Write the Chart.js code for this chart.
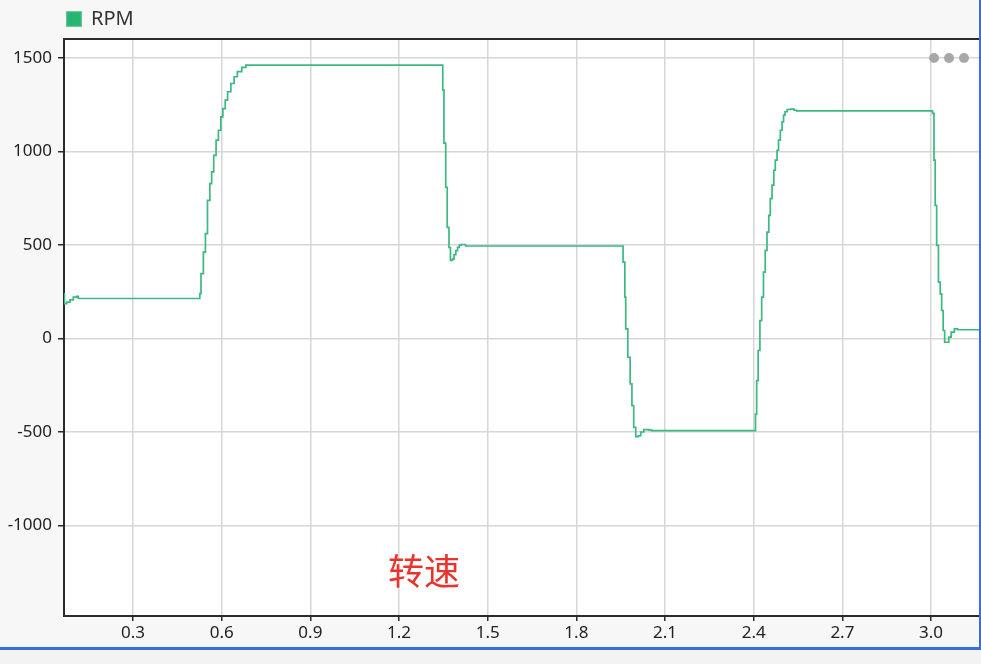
<!DOCTYPE html>
<html>
<head>
<meta charset="utf-8">
<script src="https://cdn.jsdelivr.net/npm/chart.js@4.4.1/dist/chart.umd.min.js"></script>
<style>
  body { margin: 0; background: #f7f7f7; }
  #wrap { position: relative; width: 981px; height: 664px; overflow: hidden; }
  #myChart { position: absolute; left: 0; top: 0; }
  .dot { position: absolute; width: 10px; height: 10px; border-radius: 50%; background: #a8a8a8; top: 53px; }
  #label { position: absolute; left: 424px; top: 569px; transform: translate(-50%, -50%);
           font-family: "Noto Sans CJK SC", sans-serif; font-size: 36px; line-height: 1; color: #e8342c; }
  #edgeR { position: absolute; left: 979px; top: 0; width: 2px; height: 650px; background: #3b6ed8; }
  #edgeB { position: absolute; left: 0; top: 647px; width: 981px; height: 3px; background: #3b6ed8; }
  #foot { position: absolute; left: 0; top: 650px; width: 981px; height: 14px; background: #f3f3f3; }
</style>
</head>
<body>
<div id="wrap">
  <canvas id="myChart" width="981" height="664"></canvas>
  <div class="dot" style="left:929px"></div>
  <div class="dot" style="left:944px"></div>
  <div class="dot" style="left:959px"></div>
  <div id="label">转速</div>
  <div id="edgeR"></div>
  <div id="edgeB"></div>
  <div id="foot"></div>
</div>
<script>
// time (s) and speed samples
var time = [
  0.0665, 0.068, 0.0757, 0.0868, 0.098, 0.1095, 0.115,
  0.526, 0.530, 0.538, 0.545, 0.552, 0.560, 0.566, 0.573, 0.581, 0.589, 0.597, 0.604,
  0.612, 0.620, 0.631, 0.642, 0.653, 0.668, 0.682,
  1.348, 1.352, 1.358, 1.363, 1.369, 1.374, 1.381, 1.386, 1.392, 1.398, 1.404, 1.410, 1.425,
  1.958, 1.964, 1.967, 1.974, 1.982, 1.988, 1.994, 2.001, 2.010, 2.018, 2.028, 2.047, 2.056,
  2.406, 2.410, 2.415, 2.421, 2.427, 2.433, 2.439, 2.445, 2.451, 2.456, 2.462, 2.468,
  2.473, 2.479, 2.484, 2.490, 2.496, 2.501, 2.506, 2.513, 2.524, 2.537, 2.545,
  3.005, 3.010, 3.014, 3.019, 3.025, 3.031, 3.036, 3.041, 3.046, 3.054, 3.060, 3.068,
  3.079, 3.090, 3.169
];
var rpm = [
  239, 186, 195, 207, 221, 225, 214,
  240, 347, 462, 561, 739, 829, 891, 980, 1061, 1114, 1186, 1230,
  1275, 1320, 1364, 1400, 1427, 1450, 1462,
  1329, 1045, 809, 595, 487, 418, 425, 448, 470, 488, 500, 503, 495,
  409, 221, 52, -100, -243, -359, -475, -525, -520, -500, -487, -490, -493,
  -404, -225, -64, 96, 221, 355, 471, 569, 659, 748, 820, 900,
  954, 1007, 1061, 1114, 1159, 1195, 1213, 1225, 1227, 1221, 1218,
  1204, 954, 712, 498, 302, 239, 150, 43, -20, -20, 7, 34,
  52, 47, 47
];
var xTicks = [0.3, 0.6, 0.9, 1.2, 1.5, 1.8, 2.1, 2.4, 2.7, 3.0];
var yTicks = [-1000, -500, 0, 500, 1000, 1500];

var points = time.map(function(t, i) { return {x: t, y: rpm[i]}; });

var plotBox = {
  id: 'plotBox',
  afterLayout: function(chart) {
    // legend sits over the plot's left edge, not the canvas edge
    chart.legend.left = 58;
  },
  beforeDraw: function(chart) {
    var a = chart.chartArea, c = chart.ctx;
    c.save();
    c.fillStyle = '#ffffff';
    c.fillRect(a.left, a.top, a.right - a.left, a.bottom - a.top);
    c.restore();
  },
  afterDraw: function(chart) {
    var a = chart.chartArea, c = chart.ctx;
    c.save();
    c.strokeStyle = '#2b2b2b';
    c.lineWidth = 2;
    c.beginPath();
    c.moveTo(a.left, a.top);
    c.lineTo(a.right, a.top);
    c.stroke();
    c.restore();
  }
};

Chart.defaults.font.family = "'Noto Sans', sans-serif";

var ctx = document.getElementById("myChart").getContext('2d');
var myChart = new Chart(ctx, {
  type: 'line',
  data: {
    datasets: [{
      label: 'RPM',
      data: points,
      borderColor: '#3cb882',
      backgroundColor: '#27b572',
      borderWidth: 1.7,
      pointRadius: 0,
      stepped: 'before',
      fill: false
    }]
  },
  options: {
    responsive: false,
    animation: false,
    layout: { padding: 0 },
    plugins: {
      legend: {
        align: 'start',
        labels: { boxWidth: 14, boxHeight: 14, padding: 9, color: '#333', font: { size: 20 } }
      },
      tooltip: { enabled: false }
    },
    scales: {
      x: {
        type: 'linear',
        min: 0.0665,
        max: 3.169,
        bounds: 'data',
        afterBuildTicks: function(scale) {
          scale.ticks = xTicks.map(function(v) { return {value: v}; });
        },
        afterFit: function(scale) { scale.height = 48; },
        ticks: {
          color: '#222', font: { size: 17 }, padding: 2, maxRotation: 0, autoSkip: false,
          callback: function(v) { return Number(v).toFixed(1); }
        },
        grid: { color: '#d6d6d6', lineWidth: 1.5, tickLength: 5, tickColor: '#2b2b2b', tickWidth: 1.5 },
        border: { color: '#2b2b2b', width: 2 }
      },
      y: {
        min: -1484,
        max: 1602,
        bounds: 'data',
        afterBuildTicks: function(scale) {
          scale.ticks = yTicks.map(function(v) { return {value: v}; });
        },
        afterFit: function(scale) { scale.width = 64; },
        ticks: {
          color: '#222', font: { size: 17 }, padding: 6,
          callback: function(v) { return String(v); }
        },
        grid: { color: '#d6d6d6', lineWidth: 1.5, tickLength: 6, tickColor: '#2b2b2b', tickWidth: 1.5 },
        border: { color: '#2b2b2b', width: 2 }
      }
    }
  },
  plugins: [plotBox]
});
</script>
</body>
</html>
